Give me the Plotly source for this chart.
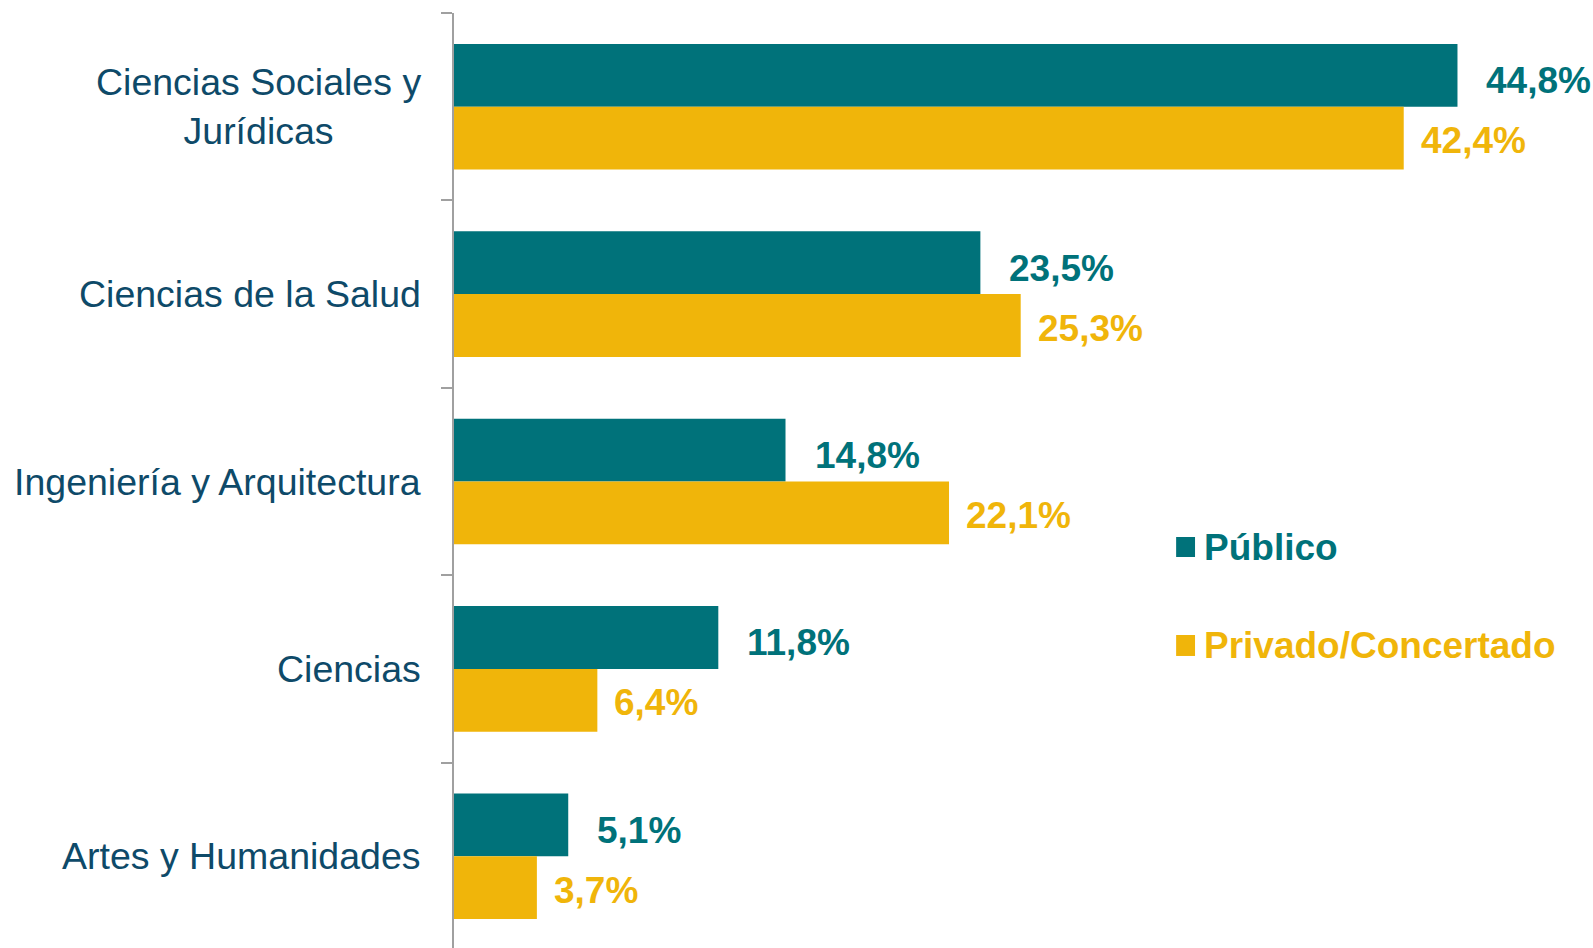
import plotly.graph_objects as go

categories = ["Ciencias Sociales y<br>Jurídicas", "Ciencias de la Salud",
              "Ingeniería y Arquitectura", "Ciencias", "Artes y Humanidades"]
publico = [44.8, 23.5, 14.8, 11.8, 5.1]
privado = [42.4, 25.3, 22.1, 6.4, 3.7]
series_names = ["Público", "Privado/Concertado"]

TEAL = "#00727A"
GOLD = "#F0B50A"
NAVY = "#0E4A69"
FONT = "Liberation Sans, Arial, sans-serif"

def fmt(v):
    return f"{v:.1f}".replace(".", ",") + "%"

fig = go.Figure()
fig.add_trace(go.Bar(y=categories, x=publico, orientation="h", name=series_names[0],
                     marker=dict(color=TEAL, line=dict(width=0))))
fig.add_trace(go.Bar(y=categories, x=privado, orientation="h", name=series_names[1],
                     marker=dict(color=GOLD, line=dict(width=0))))

ann = []
for c, v in zip(categories, publico):
    ann.append(dict(x=v, y=c, xref="x", yref="y", text=fmt(v), showarrow=False,
                    xanchor="left", yanchor="middle", xshift=27, yshift=26,
                    font=dict(family=FONT, size=37, color=TEAL, weight="bold")))
for c, v in zip(categories, privado):
    ann.append(dict(x=v, y=c, xref="x", yref="y", text=fmt(v), showarrow=False,
                    xanchor="left", yanchor="middle", xshift=15, yshift=-34,
                    font=dict(family=FONT, size=37, color=GOLD, weight="bold")))
# category labels (centered multi-line)
for c in categories:
    ann.append(dict(x=0, y=c, xref="paper", yref="y", text=c, showarrow=False,
                    xanchor="right", yanchor="middle", align="center", xshift=-31,
                    font=dict(family=FONT, size=37.5, color=NAVY)))

# custom legend
legend_items = [(series_names[0], TEAL, 0.430, 0.4194, 0.4408),
                (series_names[1], GOLD, 0.3255, 0.3138, 0.3362)]
shapes = []
for name, col, yp, y0, y1 in legend_items:
    ann.append(dict(x=0.657, y=yp, xref="paper", yref="paper", text="<b>" + name + "</b>",
                    showarrow=False, xanchor="left", yanchor="middle",
                    font=dict(family=FONT, size=37, color=col)))
    shapes.append(dict(type="rect", xref="paper", yref="paper",
                       x0=0.634, x1=0.6506, y0=y0, y1=y1,
                       fillcolor=col, line=dict(width=0)))

fig.update_layout(
    width=1593, height=950,
    margin=dict(l=454, r=0, t=13, b=0),
    paper_bgcolor="white", plot_bgcolor="white",
    barmode="group", bargap=0.33, bargroupgap=0,
    showlegend=False, hovermode=False,
    annotations=ann, shapes=shapes,
    xaxis=dict(range=[0, 50.85], visible=False, fixedrange=True),
    yaxis=dict(autorange="reversed", showticklabels=False, showline=True,
               linecolor="#A0A0A0", linewidth=2, ticks="outside", ticklen=11,
               tickcolor="#A0A0A0", tickwidth=2, tickson="boundaries",
               showgrid=False, zeroline=False, fixedrange=True),
)

fig.write_html("out.html", config={"displayModeBar": False, "staticPlot": True},
               post_script="document.body.style.margin='0';document.body.style.overflow='hidden';")
